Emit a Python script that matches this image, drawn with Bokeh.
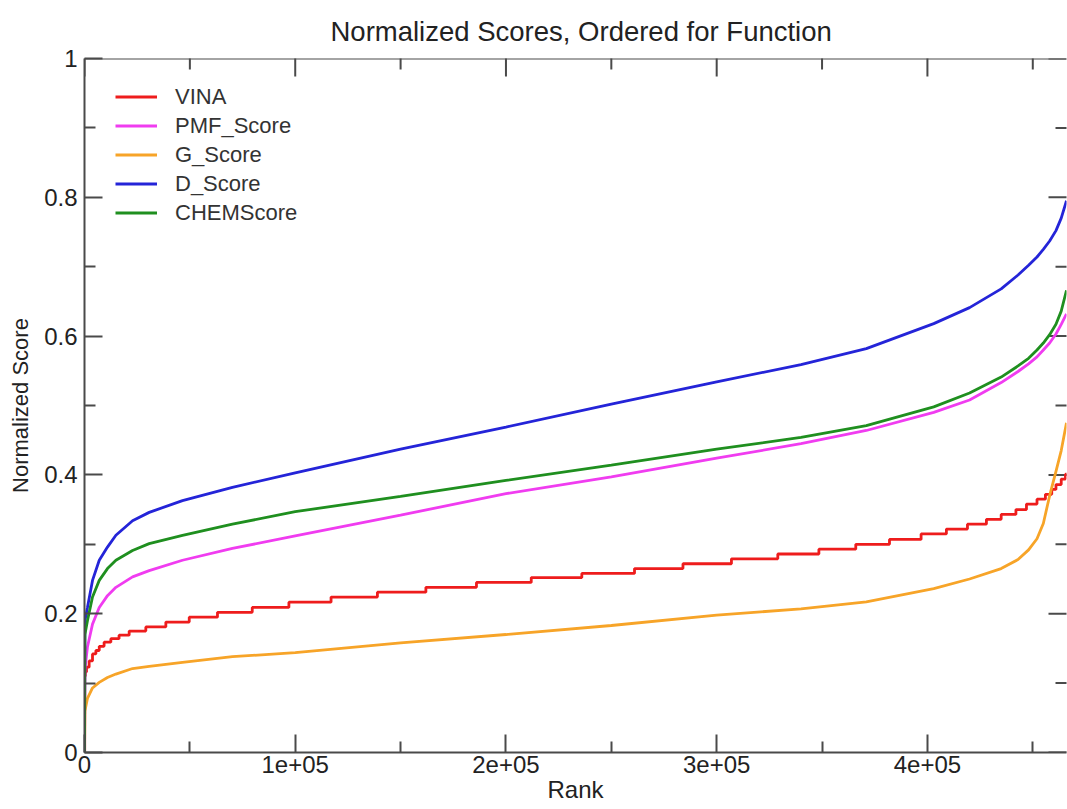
import math
from bokeh.plotting import figure
from bokeh.models import (FixedTicker, Legend, LegendItem, Range1d, Span,
                          CustomJSTickFormatter)
from bokeh.embed import file_html
from bokeh.resources import INLINE

# ---------------- data ----------------
rank = [0, 200, 1400, 3800, 7000, 10900, 14900, 22800, 30700, 46500, 70200,
        100000, 150000, 200000, 250000, 300000, 340000, 371000, 403000, 420000,
        435000, 443000, 448000, 452000, 455000, 458000, 461000, 463500, 466000]

d_score = [0.0, 0.190, 0.209, 0.248, 0.277, 0.296, 0.313, 0.334, 0.346, 0.363, 0.382,
           0.403, 0.437, 0.469, 0.502, 0.534, 0.559, 0.582, 0.618, 0.641,
           0.668, 0.688, 0.702, 0.714, 0.725, 0.737, 0.752, 0.770, 0.795]

chem_score = [0.0, 0.170, 0.190, 0.224, 0.248, 0.265, 0.277, 0.291, 0.301, 0.313, 0.329,
              0.347, 0.369, 0.392, 0.414, 0.437, 0.454, 0.471, 0.498, 0.518,
              0.541, 0.557, 0.568, 0.580, 0.590, 0.602, 0.617, 0.636, 0.666]

pmf_score = [0.0, 0.120, 0.152, 0.185, 0.209, 0.226, 0.238, 0.253, 0.262, 0.277, 0.294,
             0.312, 0.342, 0.373, 0.397, 0.424, 0.445, 0.464, 0.490, 0.508,
             0.533, 0.549, 0.560, 0.570, 0.580, 0.590, 0.603, 0.617, 0.632]

g_score = [0.0, 0.060, 0.078, 0.093, 0.101, 0.108, 0.113, 0.121, 0.124, 0.130, 0.138,
           0.144, 0.158, 0.170, 0.183, 0.198, 0.207, 0.217, 0.236, 0.250,
           0.265, 0.278, 0.292, 0.308, 0.330, 0.370, 0.405, 0.435, 0.475]

# VINA scores are discrete: a staircase (rank where each level starts, level)
vina_rank = [0, 100, 400, 950, 2200, 3800, 5400, 7000, 9300, 12500, 16400, 21200,
             29100, 38600, 49700, 63100, 79600, 97000, 117000, 139000, 162000,
             186000, 212000, 236000, 261000, 284000, 307000, 329000, 348500,
             366000, 382000, 397000, 409000, 419000, 428000, 435000, 442000,
             447000, 452000, 456000, 459000, 461000, 463500, 465500, 466500]
vina = [0.0, 0.110, 0.116, 0.123, 0.132, 0.142, 0.147, 0.153, 0.159, 0.164, 0.169,
        0.175, 0.181, 0.188, 0.195, 0.202, 0.209, 0.2166, 0.224, 0.231, 0.238,
        0.245, 0.252, 0.258, 0.265, 0.272, 0.279, 0.286, 0.293, 0.300, 0.307,
        0.315, 0.322, 0.329, 0.336, 0.343, 0.350, 0.358, 0.365, 0.372, 0.379,
        0.386, 0.394, 0.401, 0.401]

x_major = [0, 100000, 200000, 300000, 400000]
x_minor = [50000, 150000, 250000, 350000, 450000]
y_major = [0, 0.2, 0.4, 0.6, 0.8, 1.0]
y_minor = [0.1, 0.3, 0.5, 0.7, 0.9]
x_end = 466000

labels = ["VINA", "PMF_Score", "G_Score", "D_Score", "CHEMScore"]
colors = ["#ee1c1c", "#f03cf0", "#f7a428", "#2424d8", "#1f8f1f"]

FONT = "Liberation Sans"
AX = "#4a4a4a"
TXT = "#222222"

# ---------------- figure ----------------
p = figure(width=1067, height=809, output_backend="svg", toolbar_location=None,
           x_range=Range1d(0, x_end), y_range=Range1d(0, 1),
           min_border_left=84, min_border_right=1, min_border_top=58,
           min_border_bottom=57, title="Normalized Scores, Ordered for Function",
           x_axis_label="Rank", y_axis_label="Normalized Score")
p.background_fill_color = "white"
p.border_fill_color = "white"
p.outline_line_color = None
p.xgrid.visible = False
p.ygrid.visible = False

xa = p.below[0]
ya = p.left[0]

p.title.text_font = FONT
p.title.text_font_size = "27.5px"
p.title.text_font_style = "normal"
p.title.text_color = TXT
p.title.align = "left"
p.title.offset = 246
p.title.standoff = 23

xfmt = CustomJSTickFormatter(code="return tick == 0 ? '0' : Math.round(tick/1e5) + 'e+05';")
yfmt = CustomJSTickFormatter(code="return String(Math.round(tick*10)/10);")

for ax, ticker, fmt in ((xa, FixedTicker(ticks=x_major, minor_ticks=x_minor), xfmt),
                        (ya, FixedTicker(ticks=y_major, minor_ticks=y_minor), yfmt)):
    ax.ticker = ticker
    ax.formatter = fmt
    ax.axis_line_color = AX
    ax.axis_line_width = 2
    ax.major_tick_line_color = AX
    ax.major_tick_line_width = 2
    ax.minor_tick_line_color = AX
    ax.minor_tick_line_width = 2
    ax.major_tick_in = 18
    ax.major_tick_out = 0
    ax.minor_tick_in = 11
    ax.minor_tick_out = 0
    ax.major_label_text_font = FONT
    ax.major_label_text_font_size = "24px"
    ax.major_label_text_color = TXT
    ax.axis_label_text_font = FONT
    ax.axis_label_text_font_style = "normal"
    ax.axis_label_text_color = TXT

xa.major_label_standoff = 3
xa.axis_label_standoff = 0
xa.axis_label_text_font_size = "24px"
ya.major_label_standoff = 7
ya.axis_label_standoff = 8
ya.axis_label_text_font_size = "22px"

# top spine and inward ticks on top / right (clipped to the frame)
p.add_layout(Span(location=y_major[-1], dimension="width", line_color=AX, line_width=2))
p.scatter(x_major, [y_major[-1]] * len(x_major), marker="dash", size=36,
          angle=math.pi / 2, line_color=AX, line_width=2)
p.scatter(x_minor, [y_major[-1]] * len(x_minor), marker="dash", size=22,
          angle=math.pi / 2, line_color=AX, line_width=2)
p.scatter([x_end] * len(y_major), y_major, marker="dash", size=36,
          line_color=AX, line_width=2)
p.scatter([x_end] * len(y_minor), y_minor, marker="dash", size=22,
          line_color=AX, line_width=2)

# ---------------- series ----------------
LW = 2.8
r_vina = p.step(vina_rank, vina, mode="after", line_color=colors[0], line_width=LW)
r_pmf = p.line(rank, pmf_score, line_color=colors[1], line_width=LW)
r_g = p.line(rank, g_score, line_color=colors[2], line_width=LW)
r_d = p.line(rank, d_score, line_color=colors[3], line_width=LW)
r_chem = p.line(rank, chem_score, line_color=colors[4], line_width=LW)

legend = Legend(items=[LegendItem(label=labels[0], renderers=[r_vina]),
                       LegendItem(label=labels[1], renderers=[r_pmf]),
                       LegendItem(label=labels[2], renderers=[r_g]),
                       LegendItem(label=labels[3], renderers=[r_d]),
                       LegendItem(label=labels[4], renderers=[r_chem])],
                location=(31, 525))
legend.glyph_width = 42
legend.glyph_height = 29
legend.label_height = 29
legend.spacing = 0
legend.padding = 10
legend.margin = 0
legend.label_standoff = 18
legend.border_line_color = None
legend.background_fill_alpha = 0
legend.label_text_font = FONT
legend.label_text_font_size = "22px"
legend.label_text_color = "#333333"
p.add_layout(legend)

open("out.html", "w").write(file_html(p, INLINE))
